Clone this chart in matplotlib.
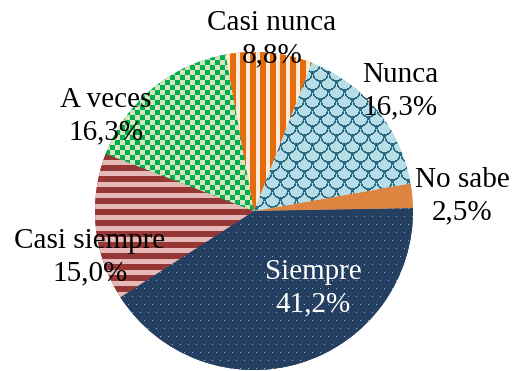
#------------- imports -------------#
import matplotlib.pyplot as plt
import numpy as np

plt.rcParams['font.family'] = 'serif'
plt.rcParams['font.serif'] = ['Liberation Serif', 'DejaVu Serif']

## data ##
categorias = ['Siempre', 'Casi siempre', 'A veces', 'Casi nunca', 'Nunca', 'No sabe']
valores = [41.2, 15.0, 16.3, 8.8, 16.3, 2.5]

## colours: (fondo, trama) ##
fondos = ['#253F60', '#953735', '#00B050', '#E46C0A', '#B7DEE8', '#DD8440']
tramas = ['#8DB4E2', '#E6B9B8', '#D7E4BD', '#FDEADA', '#2B6A7F', None]
patrones = ['puntos', 'horizontal', 'damero', 'vertical', 'escamas', None]
color_texto = ['white', 'black', 'black', 'black', 'black', 'black']

## label centres in pixels (from top-left) ##
pos_etiquetas = [(313, 288), (90, 257), (106, 116), (272, 39), (400, 91), (462, 196)]

W, H = 513, 371
CX, CY, R = 254, 211, 159


def hex2rgb(c):
    c = c.lstrip('#')
    return np.array([int(c[i:i + 2], 16) / 255. for i in (0, 2, 4)])


def mascara(tipo, X, Y):
    if tipo == 'puntos':
        return ((X % 8 == 0) & (Y % 16 == 0)) | ((X % 8 == 4) & (Y % 16 == 8))
    if tipo == 'horizontal':
        return (Y % 11) >= 6
    if tipo == 'vertical':
        return (X % 10) >= 6
    if tipo == 'damero':
        return ((X // 5) + (Y // 5)) % 2 == 0
    if tipo == 'escamas':
        m = np.zeros_like(X, dtype=bool)
        for dr in (0, -1):
            r = Y // 9 + dr
            off = (r % 2) * 8
            cx = np.round((X - off) / 16.) * 16 + off
            cy = r * 9
            d = np.sqrt((X - cx) ** 2 + ((Y - cy) * 8 / 9.) ** 2)
            m |= (d > 6.9) & (d < 8.3) & (Y >= cy)
        return m
    return np.zeros_like(X, dtype=bool)


fig = plt.figure(figsize=(W / 100., H / 100.), dpi=100)
ax = fig.add_axes([0, 0, 1, 1])

wedges, _ = ax.pie(valores, colors=fondos, startangle=1, counterclock=False,
                   radius=1, wedgeprops=dict(linewidth=0))

x0, x1 = -CX / R, (W - CX) / R
y0, y1 = -(H - CY) / R, CY / R
ax.set_xlim(x0, x1)
ax.set_ylim(y0, y1)
ax.set_aspect('auto')
ax.axis('off')

## pattern fills clipped to each wedge ##
Y, X = np.mgrid[0:H, 0:W]
for w, tipo, fondo, trama in zip(wedges, patrones, fondos, tramas):
    if tipo is None:
        continue
    img = np.ones((H, W, 3)) * hex2rgb(fondo)
    img[mascara(tipo, X, Y)] = hex2rgb(trama)
    im = ax.imshow(img, extent=(x0, x1, y0, y1), origin='upper',
                   interpolation='nearest', zorder=2)
    im.set_clip_path(w)

## labels ##
for cat, val, (px, py), col in zip(categorias, valores, pos_etiquetas, color_texto):
    txt = "{0}\n{1:.1f}%".format(cat, val).replace('.', ',')
    fig.text(px / W, 1 - py / H, txt, ha='center', va='center', color=col,
             fontsize=21, linespacing=1.3, multialignment='center', zorder=5)

plt.savefig("out.png", dpi=100)
